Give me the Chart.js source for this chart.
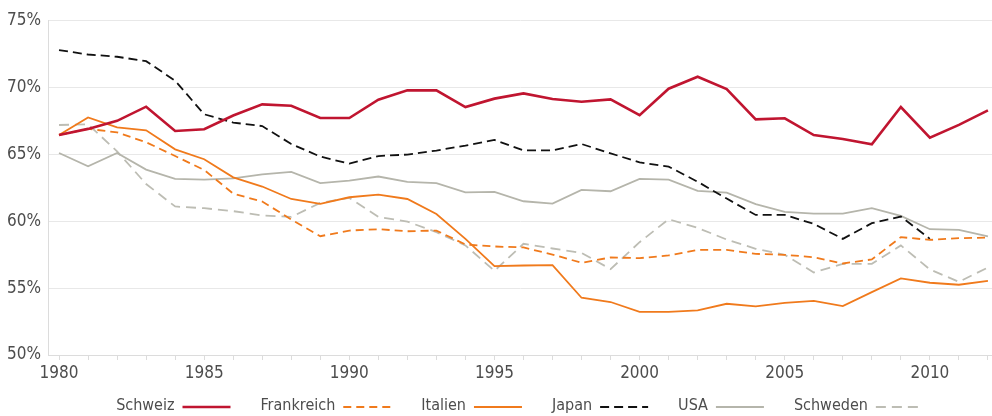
<!DOCTYPE html>
<html>
<head>
<meta charset="utf-8">
<script src="https://cdn.jsdelivr.net/npm/chart.js@4"></script>
<style>
  html, body { margin: 0; padding: 0; background: #fff; }
  #wrap { width: 992px; height: 416px; }
</style>
</head>
<body>
<div id="wrap"><canvas id="grafico"></canvas></div>
<script>
// Jahre und Werte (Anteil in %)
const jahre = [1980, 1981, 1982, 1983, 1984, 1985, 1986, 1987, 1988, 1989,
               1990, 1991, 1992, 1993, 1994, 1995, 1996, 1997, 1998, 1999,
               2000, 2001, 2002, 2003, 2004, 2005, 2006, 2007, 2008, 2009,
               2010, 2011, 2012];

const schweiz = [66.45, 66.9, 67.5, 68.56, 66.74, 66.87, 67.9, 68.73, 68.63, 67.71,
                 67.71, 69.08, 69.78, 69.78, 68.53, 69.16, 69.55, 69.13, 68.93, 69.1,
                 67.93, 69.9, 70.8, 69.88, 67.61, 67.69, 66.44, 66.14, 65.75, 68.53,
                 66.24, 67.2, 68.28];

const frankreich = [66.45, 66.9, 66.64, 65.9, 64.87, 63.83, 62.06, 61.47, 60.13, 58.88,
                    59.3, 59.4, 59.25, 59.3, 58.26, 58.11, 58.04, 57.51, 56.89, 57.29,
                    57.24, 57.44, 57.86, 57.86, 57.56, 57.49, 57.31, 56.84, 57.14, 58.81,
                    58.6, 58.73, 58.78];

const italien = [66.45, 67.76, 67.01, 66.79, 65.37, 64.63, 63.28, 62.59, 61.66, 61.29,
                 61.79, 61.99, 61.66, 60.54, 58.68, 56.64, 56.69, 56.72, 54.28, 53.96,
                 53.23, 53.23, 53.33, 53.83, 53.63, 53.9, 54.05, 53.66, 54.7, 55.72,
                 55.4, 55.25, 55.54];

const japan = [72.79, 72.46, 72.29, 71.96, 70.5, 67.99, 67.37, 67.11, 65.77, 64.83,
               64.3, 64.87, 64.98, 65.28, 65.65, 66.07, 65.3, 65.3, 65.77, 65.07,
               64.4, 64.08, 62.95, 61.69, 60.47, 60.47, 59.8, 58.68, 59.85, 60.35,
               58.68, null, null];

const usa = [65.1, 64.1, 65.1, 63.86, 63.16, 63.11, 63.2, 63.5, 63.68, 62.84,
             63.04, 63.34, 62.94, 62.84, 62.16, 62.19, 61.49, 61.32, 62.34, 62.24,
             63.16, 63.11, 62.26, 62.14, 61.27, 60.7, 60.57, 60.57, 60.97, 60.4,
             59.4, 59.35, 58.86];

const schweden = [67.19, 67.24, 65.22, 62.78, 61.1, 60.97, 60.75, 60.43, 60.32, 61.37,
                  61.74, 60.32, 59.97, 59.18, 58.19, 56.29, 58.31, 57.96, 57.63, 56.42,
                  58.43, 60.15, 59.5, 58.63, 57.94, 57.49, 56.17, 56.81, 56.81, 58.19,
                  56.39, 55.47, 56.54];

const yTicks = [50, 55, 60, 65, 70, 75];

const schrift = "'Liberation Sans Narrow', 'DejaVu Sans Condensed', 'Roboto', sans-serif";
const textFarbe = '#4d4d4d';
const linienFarbe = '#dcdcdc';

function serie(label, daten, farbe, breite, strich) {
    return {
        label: label,
        data: daten,
        borderColor: farbe,
        backgroundColor: farbe,
        borderWidth: breite,
        borderDash: strich,
        pointRadius: 0,
        pointHoverRadius: 0,
        tension: 0,
        fill: false,
        spanGaps: false
    };
}

// Legende unten: Text, dann Linienmuster
const legendePlugin = {
    id: 'legendeUnten',
    afterDraw(chart) {
        const ctx = chart.ctx;
        const area = chart.chartArea;
        const y = 406;
        const abstandText = 8;
        const linie = 48;
        const abstandItem = 30;
        ctx.save();
        ctx.font = '16px ' + schrift;
        ctx.textBaseline = 'middle';
        const items = chart.data.datasets.map(ds => ({
            ds: ds,
            w: ctx.measureText(ds.label).width
        }));
        let total = 0;
        items.forEach((it, i) => {
            total += it.w + abstandText + linie + (i < items.length - 1 ? abstandItem : 0);
        });
        let x = (area.left + area.right) / 2 - total / 2;
        items.forEach(it => {
            ctx.fillStyle = textFarbe;
            ctx.textAlign = 'left';
            ctx.fillText(it.ds.label, x, y);
            x += it.w + abstandText;
            ctx.beginPath();
            ctx.setLineDash(it.ds.borderDash || []);
            ctx.strokeStyle = it.ds.borderColor;
            ctx.lineWidth = it.ds.borderWidth;
            ctx.moveTo(x, y + 1);
            ctx.lineTo(x + linie, y + 1);
            ctx.stroke();
            x += linie + abstandItem;
        });
        ctx.restore();
    }
};

const ctx = document.getElementById('grafico').getContext('2d');
new Chart(ctx, {
    type: 'line',
    data: {
        labels: jahre,
        datasets: [
            serie('Schweiz', schweiz, '#c01530', 2.6, []),
            serie('Frankreich', frankreich, '#f07a1c', 1.8, [8, 5]),
            serie('Italien', italien, '#f07a1c', 1.8, []),
            serie('Japan', japan, '#111111', 1.8, [9, 5]),
            serie('USA', usa, '#b5b5ab', 1.8, []),
            serie('Schweden', schweden, '#bdbdb4', 1.8, [10, 6])
        ]
    },
    options: {
        responsive: true,
        maintainAspectRatio: false,
        animation: false,
        layout: { padding: { top: 20.5, right: 0, left: 0, bottom: 0 } },
        plugins: {
            legend: { display: false },
            tooltip: { enabled: false }
        },
        scales: {
            x: {
                type: 'linear',
                min: 1979.62,
                max: 2012.14,
                grid: {
                    drawOnChartArea: false,
                    drawTicks: true,
                    tickLength: 5,
                    color: linienFarbe
                },
                border: { color: linienFarbe },
                ticks: {
                    stepSize: 1,
                    includeBounds: false,
                    autoSkip: false,
                    maxRotation: 0,
                    padding: 3,
                    color: textFarbe,
                    font: { size: 17, family: schrift },
                    callback: v => (v % 5 === 0 ? String(v) : '')
                },
                afterFit: s => { s.height = 61; }
            },
            y: {
                min: yTicks[0],
                max: yTicks[yTicks.length - 1],
                afterBuildTicks: s => { s.ticks = yTicks.map(v => ({ value: v })); },
                grid: {
                    color: '#e8e8e8',
                    drawTicks: false
                },
                border: { color: linienFarbe },
                ticks: {
                    padding: 7,
                    color: textFarbe,
                    font: { size: 17, family: schrift },
                    callback: v => v + '%'
                },
                afterFit: s => { s.width = 48; }
            }
        }
    },
    plugins: [legendePlugin]
});
</script>
</body>
</html>
